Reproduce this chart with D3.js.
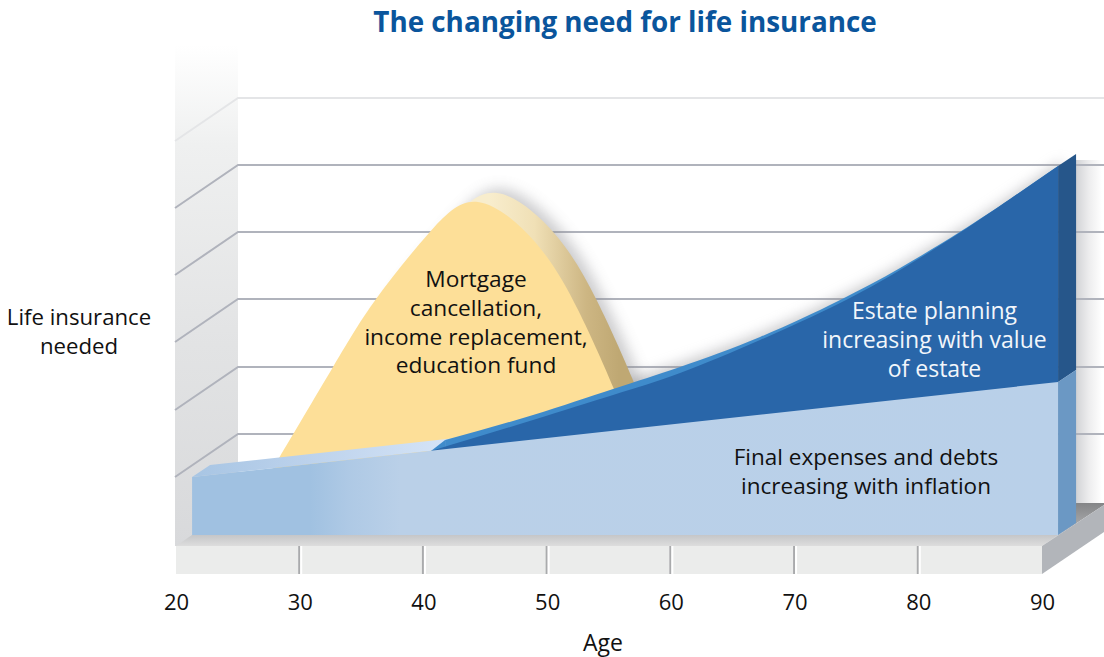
<!DOCTYPE html>
<html>
<head>
<meta charset="utf-8">
<title>The changing need for life insurance</title>
<script src="https://cdn.jsdelivr.net/npm/d3@7"></script>
<style>
    html, body { margin: 0; padding: 0; background: #fff; }
    svg { display: block; }
    text { font-family: "Open Sans", sans-serif; }
</style>
</head>
<body>
<div id="chart"></div>
<script>
// Values. Ages on x, need on an unlabelled 0-100 index on y.
const ageTicks = [20, 30, 40, 50, 60, 70, 80, 90];
const wallLevels = [25.25, 42, 59, 75.75, 92.5, 109.25];

const finalAges = [21.3, 91.3];
const finalValues = [14.5, 38.25];

const mortgageAges = [27.5, 28.33, 32.69, 36.17, 40.45, 44.41, 49.02, 52.5, 55.33, 56.3];
const mortgageValues = [15, 19.25, 42, 59, 75.5, 83.25, 73.25, 56.25, 37, 28.75];

const estateAges = [40.61, 48.86, 55.33, 60.74, 67.21, 73.52, 78.53, 83.38, 87.42, 91.3];
const estateValues = [21, 28.75, 35, 40.5, 48.75, 57.75, 66.25, 75.6, 84, 92.25];
// the lighter rim behind the wedge starts just after the wedge does
const estateRimAges = [41.75, 48.86, 55.33, 60.74, 67.21, 73.52, 78.53, 83.38, 87.42, 91.3];
const estateRimValues = [23.75, 30, 36.5, 42, 49.5, 58.5, 66.75, 75.8, 84, 92.25];

const titleText = "The changing need for life insurance";
const yLabelLines = ["Life insurance", "needed"];
const mortgageLines = ["Mortgage", "cancellation,", "income replacement,", "education fund"];
const estateLines = ["Estate planning", "increasing with value", "of estate"];
const finalLines = ["Final expenses and debts", "increasing with inflation"];

const width = 1104, height = 657;
const floorY = 546, floorBottom = 574;
const wallDx = 63, wallDy = -43;   // depth of the side wall
const slabDx = 18, slabDy = -12;   // depth of the blue slab
const humpDx = 19, humpDy = -9;    // depth of the yellow hump

const x = d3.scaleLinear().domain([20, 90]).range([176, 1042]);
const y = d3.scaleLinear().domain([0, 100]).range([535, 135]);

const svg = d3.select("#chart").append("svg")
    .attr("width", width)
    .attr("height", height);

const defs = svg.append("defs");

function gradient(id, x1, y1, x2, y2, stops) {
    const g = defs.append("linearGradient")
        .attr("id", id)
        .attr("gradientUnits", "userSpaceOnUse")
        .attr("x1", x1).attr("y1", y1)
        .attr("x2", x2).attr("y2", y2);
    stops.forEach(s => g.append("stop").attr("offset", s[0]).attr("stop-color", s[1]));
}

gradient("wallFill", 0, 45, 0, 546, [[0, "#ffffff"], [0.2, "#eff0f0"], [0.6, "#e2e3e4"], [1, "#d8d9db"]]);
gradient("wallShade", 1076, 0, 1102, 0, [[0, "#d2d3d6"], [0.5, "#ededee"], [1, "#ffffff"]]);
gradient("floorTop", 0, 535, 0, 546, [[0, "#c5c6c8"], [1, "#dddddd"]]);
gradient("floorRight", 0, 503, 0, 545, [[0, "#848587"], [1, "#c6c7c9"]]);
gradient("humpRim", 470, 0, 600, 0, [[0, "#f8edcd"], [0.35, "#f0e0b6"], [0.75, "#cdb683"], [1, "#bfa873"]]);
gradient("slabTop", 200, 0, 440, 0, [[0, "#a9c6e4"], [0.45, "#bcd2ec"], [1, "#d4e3f6"]]);
gradient("slabFront", 192, 0, 1058, 0, [[0, "#a0c1e1"], [0.136, "#a0c1e1"], [0.18, "#aec9e5"], [0.24, "#bad0e8"], [1, "#b9d0e9"]]);

defs.append("filter").attr("id", "soft")
    .attr("x", "-20%").attr("y", "-20%").attr("width", "140%").attr("height", "140%")
    .append("feGaussianBlur").attr("stdDeviation", 7);

function pairs(ages, values) {
    return ages.map((a, i) => [a, values[i]]);
}

const smoothArea = d3.area()
    .x(d => x(d[0]))
    .y0(y(0))
    .y1(d => y(d[1]))
    .curve(d3.curveNatural);

const polygon = pts => "M" + pts.map(p => p.join(",")).join("L") + "Z";

// walls
svg.append("rect")
    .attr("x", 175).attr("y", 45)
    .attr("width", 238 - 175).attr("height", floorY - 45)
    .attr("fill", "url(#wallFill)");

svg.append("rect")
    .attr("x", 1076).attr("y", 160)
    .attr("width", 28).attr("height", 503 - 160)
    .attr("fill", "url(#wallShade)");

// gridlines on back wall and side wall
const grid = svg.append("g")
    .attr("fill", "none")
    .attr("stroke-width", 2);

grid.selectAll("path")
    .data(wallLevels)
    .enter()
    .append("path")
    .attr("d", d => `M${238 - wallDx},${y(d) - wallDy}L238,${y(d)}L${width},${y(d)}`)
    .attr("stroke", (d, i) => i === wallLevels.length - 1 ? "#e4e5e7" : "#b0b3bc");

// soft shadows cast on the wall
svg.append("path")
    .datum(pairs(mortgageAges, mortgageValues))
    .attr("d", smoothArea)
    .attr("transform", `translate(${humpDx + 6},${humpDy - 4})`)
    .attr("fill", "#8d8d92")
    .attr("opacity", 0.45)
    .attr("filter", "url(#soft)");

svg.append("path")
    .datum(pairs(estateRimAges, estateRimValues))
    .attr("d", smoothArea)
    .attr("transform", "translate(5,-5)")
    .attr("fill", "#8d8d92")
    .attr("opacity", 0.5)
    .attr("filter", "url(#soft)");

// floor
svg.append("path")
    .attr("d", polygon([[176, floorY], [192, 535], [1058, 535], [1042, floorY]]))
    .attr("fill", "url(#floorTop)");

svg.append("path")
    .attr("d", polygon([[1042, floorY], [1058, 535], [1076, 522], [1076, 503], [width, 503], [width, 505]]))
    .attr("fill", "url(#floorRight)");

svg.append("path")
    .attr("d", polygon([[1042, floorY], [width, 505], [width, 532], [1042, floorBottom]]))
    .attr("fill", "#b2b5ba");

svg.append("rect")
    .attr("x", 176).attr("y", floorY)
    .attr("width", 1042 - 176).attr("height", floorBottom - floorY)
    .attr("fill", "#ebeceb");

// x axis: ticks are grooves on the floor edge
const axis = svg.append("g")
    .attr("transform", `translate(0,${floorY})`)
    .call(d3.axisBottom(x).tickValues(ageTicks).tickSize(floorBottom - floorY).tickPadding(20));

axis.select(".domain").remove();
axis.selectAll(".tick line")
    .attr("x1", -1).attr("x2", -1)
    .attr("stroke", "#a9aaac")
    .attr("stroke-width", 2)
    .attr("opacity", d => d === 20 || d === 90 ? 0 : 1);
axis.selectAll(".tick")
    .filter(d => d !== 20 && d !== 90)
    .append("line")
    .attr("x1", 1).attr("x2", 1)
    .attr("y1", 0).attr("y2", floorBottom - floorY)
    .attr("stroke", "#ffffff")
    .attr("stroke-width", 2);
axis.selectAll(".tick text")
    .attr("fill", "#111")
    .style("font-size", "22px")
    .style("font-family", "'Open Sans', sans-serif");

// yellow hump
svg.append("path")
    .datum(pairs(mortgageAges, mortgageValues))
    .attr("d", smoothArea)
    .attr("transform", `translate(${humpDx},${humpDy})`)
    .attr("fill", "url(#humpRim)");

svg.append("path")
    .datum(pairs(mortgageAges, mortgageValues))
    .attr("d", smoothArea)
    .attr("fill", "#fddf98");

// top of the light slab
const fa0 = finalAges[0], fa1 = finalAges[1], fv0 = finalValues[0], fv1 = finalValues[1];

svg.append("path")
    .attr("d", polygon([
        [x(fa0), y(fv0)],
        [x(fa0) + slabDx, y(fv0) + slabDy],
        [x(fa1) + slabDx, y(fv1) + slabDy],
        [x(fa1), y(fv1)]
    ]))
    .attr("fill", "url(#slabTop)");

// estate planning wedge: rim, its slanted start, then the front face
svg.append("path")
    .datum(pairs(estateRimAges, estateRimValues))
    .attr("d", smoothArea)
    .attr("fill", "#3f8bcb");

svg.append("path")
    .attr("d", polygon([
        [x(estateAges[0]), y(estateValues[0])],
        [x(estateRimAges[0]), y(estateRimValues[0])],
        [x(estateRimAges[0]), y(estateValues[0])]
    ]))
    .attr("fill", "#3f8bcb");

svg.append("path")
    .datum(pairs(estateAges, estateValues))
    .attr("d", smoothArea)
    .attr("fill", "#2966a9");

svg.append("path")
    .attr("d", polygon([
        [x(fa1), y(estateValues[estateValues.length - 1])],
        [x(fa1) + slabDx, y(estateValues[estateValues.length - 1]) + slabDy],
        [x(fa1) + slabDx, y(fv1) + slabDy],
        [x(fa1), y(fv1)]
    ]))
    .attr("fill", "#26568a");

// final expenses slab
svg.append("path")
    .attr("d", polygon([[x(fa0), y(0)], [x(fa0), y(fv0)], [x(fa1), y(fv1)], [x(fa1), y(0)]]))
    .attr("fill", "url(#slabFront)");

svg.append("path")
    .attr("d", polygon([
        [x(fa1), y(fv1)],
        [x(fa1) + slabDx, y(fv1) + slabDy],
        [x(fa1) + slabDx, y(0) + slabDy],
        [x(fa1), y(0)]
    ]))
    .attr("fill", "#6b98c4");

// text
function block(lines, cx, top, step, size, color) {
    svg.append("g").selectAll("text")
        .data(lines)
        .enter()
        .append("text")
        .attr("x", cx)
        .attr("y", (d, i) => top + i * step)
        .attr("text-anchor", "middle")
        .attr("fill", color)
        .style("font-size", size + "px")
        .text(d => d);
}

svg.append("text")
    .attr("x", 625).attr("y", 32)
    .attr("text-anchor", "middle")
    .attr("fill", "#0a559c")
    .style("font-size", "27.8px")
    .style("font-weight", "700")
    .text(titleText);

block(yLabelLines, 79, 325, 29, 22.2, "#111");
block(mortgageLines, 476, 287, 28.8, 22.7, "#111");
block(estateLines, 934.5, 319, 29, 23, "#f2f6fb");
block(finalLines, 866, 465, 29, 22.5, "#111");

svg.append("text")
    .attr("x", 603).attr("y", 651)
    .attr("text-anchor", "middle")
    .attr("fill", "#111")
    .style("font-size", "23px")
    .text("Age");
</script>
</body>
</html>
